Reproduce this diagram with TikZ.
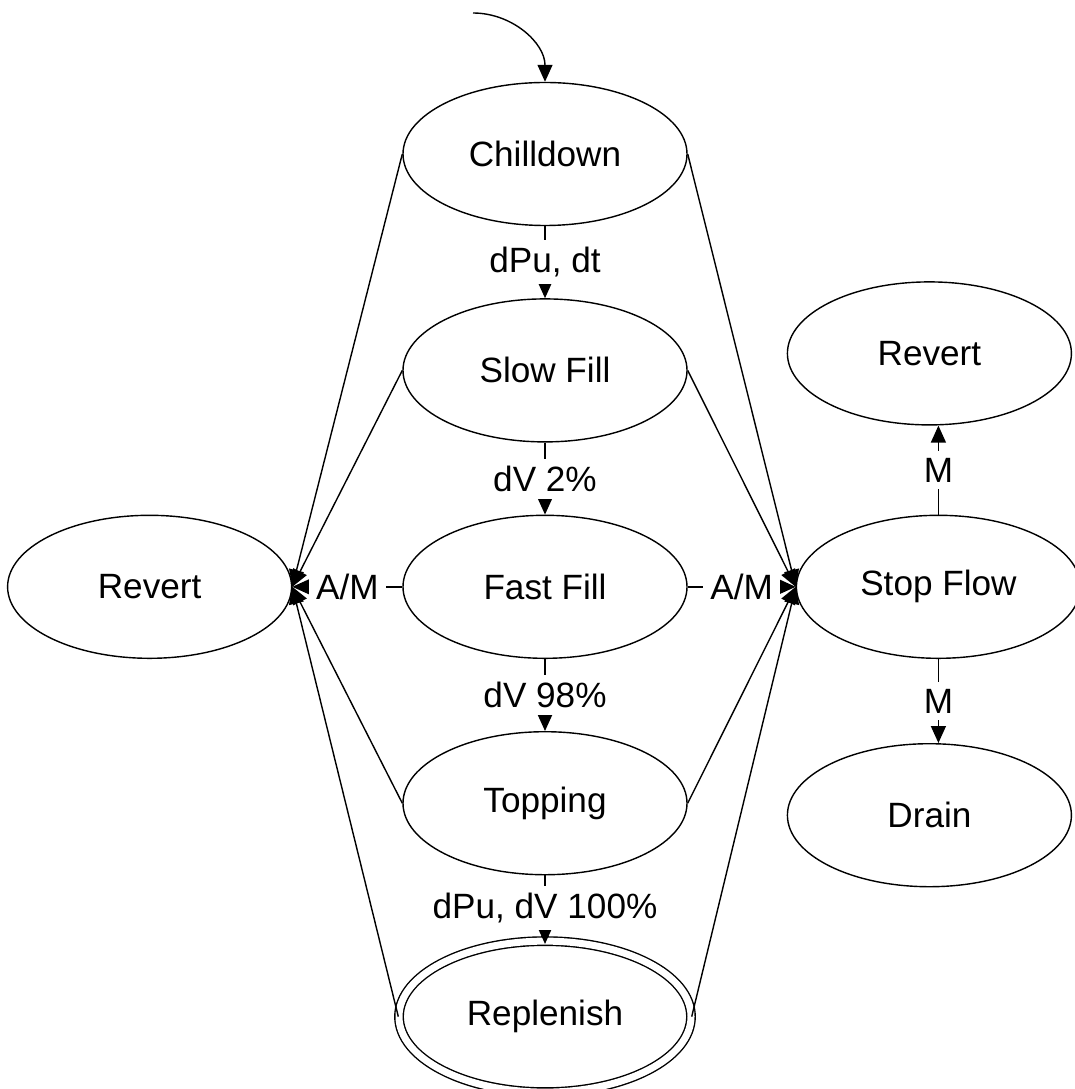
\documentclass[tikz,border=0pt]{standalone}
\usepackage{fontspec}
\setmainfont{Liberation Sans}
\usetikzlibrary{shapes.geometric, positioning, arrows.meta}

\begin{document}
\begin{tikzpicture}[>={Triangle[length=0.17cm, width=0.15cm]}, node distance=0.72cm]
            \tikzstyle{state}=[draw, shape=ellipse, minimum width=2.84cm, minimum height=1.43cm, inner sep=0pt, font=\fontsize{10}{12}\selectfont];
            \tikzstyle{final}=[state, double, double distance=0.07cm, minimum width=2.92cm, minimum height=1.51cm];
            \tikzstyle{lbl}=[fill=white, inner sep=2pt, font=\fontsize{10}{12}\selectfont];
            \useasboundingbox (0,0) rectangle (10.75,-10.89);
            % main column
            \node[state] (chill) at (5.45,-1.54) {Chilldown};
            \node[state, below=of chill] (slow) {Slow Fill};
            \node[state, below=of slow] (fast) {Fast Fill};
            \node[state, below=of fast] (top) {Topping};
            \node[final, below=0.65cm of top] (rep) {Replenish};
            % side states
            \node[state, left=1.1cm of fast] (rvl) {Revert};
            \node[state, right=1.08cm of fast] (sf) {Stop Flow};
            \node[state, above=0.89cm of sf, xshift=-0.09cm] (rvr) {Revert};
            \node[state, below=0.84cm of sf, xshift=-0.09cm] (drain) {Drain};
            \coordinate (init) at (4.73,-0.13);

            \draw[->] (init) to[out=0, in=90] (chill.north);
            \draw[->] (chill) -- node[lbl] {dPu, dt} (slow);
            \draw[->] (slow) -- node[lbl] {dV 2\%} (fast);
            \draw[->] (fast) -- node[lbl] {dV 98\%} (top);
            \draw[->, shorten >=-0.035cm] (top) -- node[lbl] {dPu, dV 100\%} (rep);

            \draw[->] (fast) -- node[lbl] {A/M} (rvl);
            \draw[->] (fast) -- node[lbl] {A/M} (sf);
            \foreach \s in {chill, slow, top, rep} {
                \draw[->] (\s.west) -- (rvl.east);
                \draw[->] (\s.east) -- (sf.west);
            }
            \draw[->] (sf.north) -- node[lbl] {M} (sf.north |- rvr.south);
            \draw[->] (sf.south) -- node[lbl] {M} (sf.south |- drain.north);
        \end{tikzpicture}
\end{document}
